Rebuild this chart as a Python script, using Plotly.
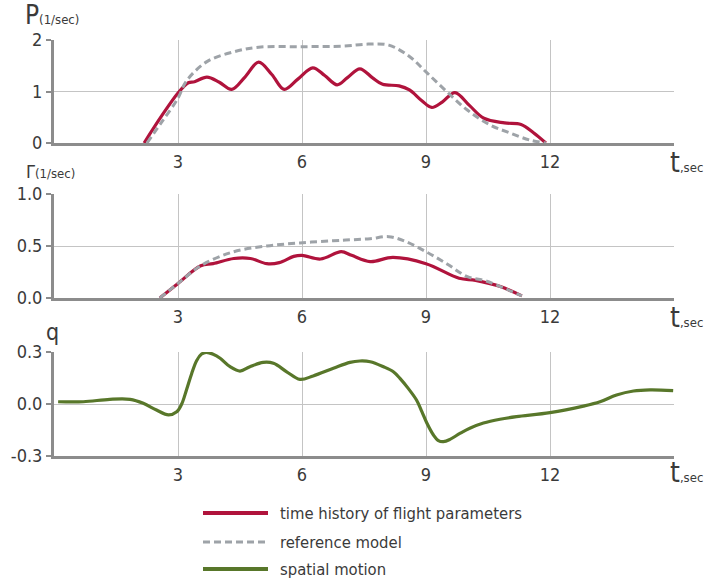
import plotly.graph_objects as go

# ---- data -------------------------------------------------------------
# roll rate p: flight record and reference model
p_t = [2.18, 2.6, 3.0, 3.25, 3.4, 3.7, 4.0, 4.3, 4.62, 4.95, 5.27, 5.57, 5.9, 6.26, 6.55, 6.85, 7.1, 7.4, 7.7, 7.95, 8.35, 8.6, 8.9, 9.14, 9.4, 9.7, 10.05, 10.4, 10.9, 11.3, 11.6, 11.9]
p_flight = [0.0, 0.52, 0.97, 1.17, 1.19, 1.28, 1.18, 1.04, 1.28, 1.57, 1.33, 1.04, 1.24, 1.46, 1.31, 1.13, 1.27, 1.44, 1.27, 1.14, 1.11, 1.03, 0.82, 0.69, 0.8, 0.98, 0.73, 0.48, 0.39, 0.36, 0.2, 0.0]

p_ref_t = [2.25, 2.6, 3.0, 3.2, 3.7, 4.35, 4.95, 6.0, 7.0, 7.6, 8.1, 8.6, 9.0, 9.5, 10.0, 10.55, 11.05, 11.5, 11.9]
p_ref = [0.0, 0.4, 0.87, 1.2, 1.58, 1.77, 1.86, 1.87, 1.88, 1.92, 1.9, 1.68, 1.38, 1.0, 0.64, 0.35, 0.19, 0.06, 0.0]

# yaw rate r (Γ): flight record and reference model
r_t = [2.56, 3.0, 3.55, 3.85, 4.35, 4.75, 5.15, 5.45, 5.8, 6.0, 6.45, 6.95, 7.2, 7.65, 8.2, 9.0, 9.8, 10.2, 10.8, 11.32]
r_flight = [0.0, 0.14, 0.31, 0.33, 0.38, 0.38, 0.33, 0.34, 0.40, 0.41, 0.375, 0.445, 0.41, 0.35, 0.39, 0.33, 0.19, 0.17, 0.11, 0.02]

r_ref_t = [2.56, 3.0, 3.55, 4.35, 5.15, 5.95, 6.75, 7.2, 7.65, 8.1, 8.5, 9.0, 9.5, 10.0, 10.4, 10.8, 11.32]
r_ref = [0.0, 0.14, 0.31, 0.445, 0.50, 0.53, 0.55, 0.56, 0.57, 0.59, 0.545, 0.445, 0.33, 0.205, 0.17, 0.11, 0.02]

# pitch rate q: spatial motion
q_t = [0.1, 0.71, 1.35, 1.84, 2.16, 2.48, 2.77, 2.97, 3.09, 3.21, 3.33, 3.45, 3.57, 3.68, 3.85, 4.02, 4.26, 4.5, 4.74,
       5.06, 5.31, 5.63, 5.95, 6.27, 6.76, 7.16, 7.4, 7.65, 7.97, 8.21, 8.37, 8.57, 8.77, 8.9, 9.02, 9.18, 9.3, 9.42,
       9.58, 9.82, 10.06, 10.39, 10.79, 11.19, 12.0, 12.81, 13.21, 13.61, 14.02, 14.42, 14.98]
q_motion = [0.013, 0.013, 0.027, 0.027, 0.004, -0.035, -0.063, -0.045, 0.0, 0.085, 0.175, 0.25, 0.288, 0.298, 0.287, 0.264, 0.215, 0.19, 0.215,
            0.24, 0.235, 0.186, 0.142, 0.162, 0.206, 0.24, 0.248, 0.244, 0.215, 0.186, 0.148, 0.09, 0.023, -0.044, -0.11, -0.179, -0.211, -0.217,
            -0.204, -0.17, -0.14, -0.11, -0.088, -0.073, -0.05, -0.012, 0.013, 0.052, 0.075, 0.081, 0.077]

x_ticks = [3, 6, 9, 12, 15]
x_tick_text = ["3", "6", "9", "12", ""]
p_ticks, p_tick_text = [0, 1, 2], ["0", "1", "2"]
r_ticks, r_tick_text = [0, 0.5, 1.0], ["0.0", "0.5", "1.0"]
q_ticks, q_tick_text = [-0.3, 0, 0.3], ["-0.3", "0.0", "0.3"]

legend_names = ["time history of flight parameters", "reference model", "spatial motion"]

# ---- styling ----------------------------------------------------------
W, H = 709, 584
FONT = "Liberation Sans Narrow, DejaVu Sans Condensed, Roboto Condensed, Roboto, sans-serif"
TXT = "#3a3a3a"
RED = "#b0133c"
GREY = "#9ea3a8"
GREEN = "#58772a"
GRID = "#c4c4c4"
AXIS = "#8c8c8c"


def py(pix):
    """pixel row -> paper y"""
    return 1 - pix / H


def px(pix):
    return pix / W


x_dom = [px(54), px(674)]
panels = [  # (top px, bottom px, y range, tick values, tick text)
    (40, 143, [0, 2], p_ticks, p_tick_text),
    (194, 298, [0, 1.0], r_ticks, r_tick_text),
    (352, 456, [-0.3, 0.3], q_ticks, q_tick_text),
]

fig = go.Figure()

line_w = 3.2
spl = dict(shape="spline", smoothing=1.0)
fig.add_trace(go.Scatter(x=p_t, y=p_flight, mode="lines", line=dict(color=RED, width=line_w, **spl),
                         xaxis="x", yaxis="y", name=legend_names[0], showlegend=False))
fig.add_trace(go.Scatter(x=p_ref_t, y=p_ref, mode="lines", line=dict(color=GREY, width=3, dash="7px,4px", **spl),
                         xaxis="x", yaxis="y", name=legend_names[1], showlegend=False))
fig.add_trace(go.Scatter(x=r_t, y=r_flight, mode="lines", line=dict(color=RED, width=line_w, **spl),
                         xaxis="x2", yaxis="y2", name=legend_names[0], showlegend=False))
fig.add_trace(go.Scatter(x=r_ref_t, y=r_ref, mode="lines", line=dict(color=GREY, width=3, dash="7px,4px", **spl),
                         xaxis="x2", yaxis="y2", name=legend_names[1], showlegend=False))
fig.add_trace(go.Scatter(x=q_t, y=q_motion, mode="lines", line=dict(color=GREEN, width=line_w, **spl),
                         xaxis="x3", yaxis="y3", name=legend_names[2], showlegend=False))

layout = dict(
    template="none",
    width=W, height=H,
    margin=dict(l=0, r=0, t=0, b=0, autoexpand=False),
    paper_bgcolor="white", plot_bgcolor="white",
    showlegend=False,
    font=dict(family=FONT, color=TXT),
)

for i, (top, bot, yr, tv, tt) in enumerate(panels):
    sfx = "" if i == 0 else str(i + 1)
    layout["xaxis" + sfx] = dict(
        domain=x_dom, range=[0, 15], anchor="y" + sfx,
        tickvals=x_ticks, ticktext=x_tick_text,
        showgrid=True, gridcolor=GRID, gridwidth=1,
        showline=True, linecolor=AXIS, linewidth=3,
        ticks="", zeroline=False, automargin=False,
        tickfont=dict(size=18, color=TXT, family=FONT),
    )
    layout["yaxis" + sfx] = dict(
        domain=[py(bot), py(top)], range=yr, anchor="x" + sfx,
        tickvals=tv, ticktext=tt,
        showgrid=True, gridcolor=GRID, gridwidth=1,
        showline=True, linecolor=AXIS, linewidth=3,
        ticks="outside", ticklen=5, tickwidth=2, tickcolor=AXIS,
        zeroline=False, automargin=False,
        tickfont=dict(size=18, color=TXT, family=FONT),
    )

fig.update_layout(**layout)

annotations = []
# axis titles
annotations.append(dict(x=px(23), y=py(32), xref="paper", yref="paper", xanchor="left", yanchor="bottom",
                        text="P<span style='font-size:13px'>(1/sec)</span>", showarrow=False,
                        font=dict(size=26, color=TXT, family=FONT)))
annotations.append(dict(x=px(24), y=py(184), xref="paper", yref="paper", xanchor="left", yanchor="bottom",
                        text="Γ<span style='font-size:13px'>(1/sec)</span>", showarrow=False,
                        font=dict(size=18, color=TXT, family=FONT)))
annotations.append(dict(x=px(44), y=py(347), xref="paper", yref="paper", xanchor="left", yanchor="bottom",
                        text="q", showarrow=False,
                        font=dict(size=23, color=TXT, family=FONT)))
# time-axis labels
for base in (181, 336, 491):
    annotations.append(dict(x=px(668), y=py(base), xref="paper", yref="paper", xanchor="left", yanchor="bottom",
                            text="t<span style='font-size:13px'>,sec</span>", showarrow=False,
                            font=dict(size=28, color=TXT, family=FONT)))

# legend drawn as short line samples with labels
shapes = []
legend_rows = [(513, RED, "solid"), (542, GREY, "7px,4px"), (569, GREEN, "solid")]
for (row, col, dash), name in zip(legend_rows, legend_names):
    shapes.append(dict(type="line", xref="paper", yref="paper",
                       x0=px(203), x1=px(268), y0=py(row), y1=py(row),
                       line=dict(color=col, width=4 if dash == "solid" else 3, dash=dash)))
    annotations.append(dict(x=px(278), y=py(row), xref="paper", yref="paper", xanchor="left", yanchor="middle",
                            text=name, showarrow=False, font=dict(size=16.5, color=TXT, family=FONT)))

fig.update_layout(annotations=annotations, shapes=shapes)

fig.write_html("out.html")
